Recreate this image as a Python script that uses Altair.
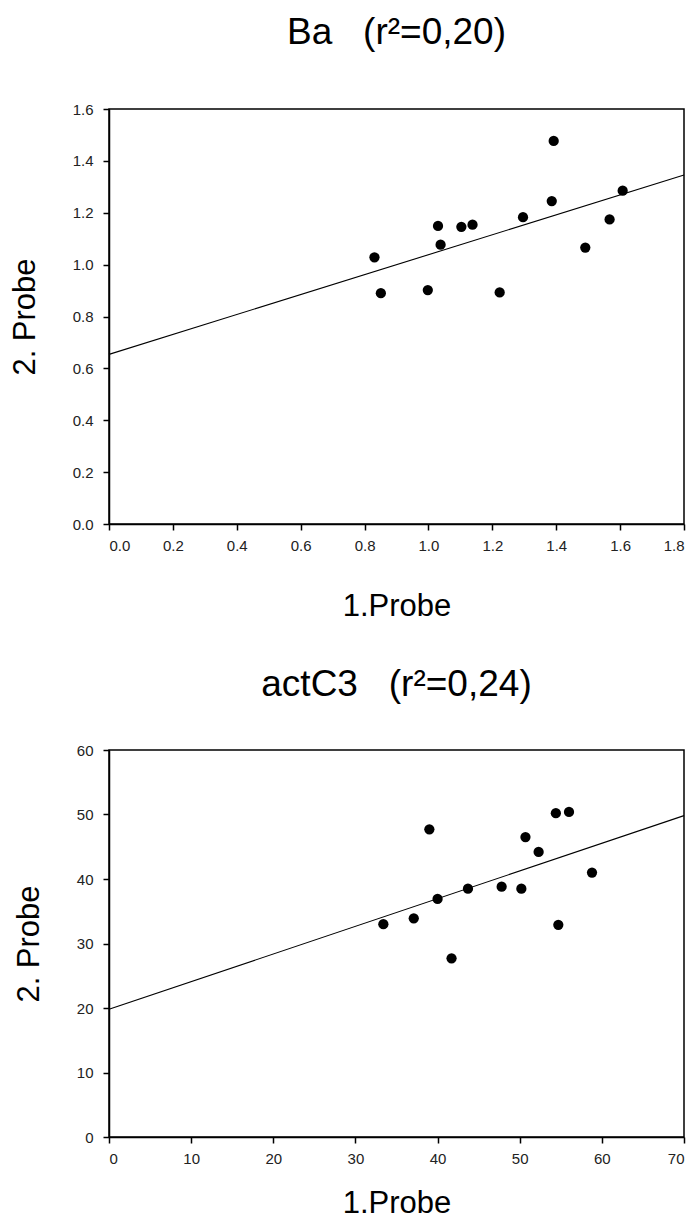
import altair as alt
import pandas as pd

# ---- data ----
ba_x = [0.831, 0.851, 0.998, 1.030, 1.038, 1.103, 1.138, 1.223, 1.296, 1.386, 1.392, 1.491, 1.567, 1.608]
ba_y = [1.028, 0.890, 0.902, 1.149, 1.077, 1.146, 1.154, 0.893, 1.183, 1.245, 1.477, 1.066, 1.174, 1.285]

act_x = [33.4, 37.1, 39.0, 40.0, 41.7, 43.7, 47.8, 50.2, 50.7, 52.3, 54.4, 56.0, 54.7, 58.8]
act_y = [33.0, 33.9, 47.7, 36.9, 27.7, 38.5, 38.8, 38.5, 46.5, 44.2, 50.2, 50.4, 32.9, 41.0]

ba_xticks = [0.0, 0.2, 0.4, 0.6, 0.8, 1.0, 1.2, 1.4, 1.6, 1.8]
ba_yticks = [0.0, 0.2, 0.4, 0.6, 0.8, 1.0, 1.2, 1.4, 1.6]
act_xticks = [0, 10, 20, 30, 40, 50, 60, 70]
act_yticks = [0, 10, 20, 30, 40, 50, 60]

titles = ["Ba\u00a0\u00a0\u00a0(r\u00b2=0,20)", "actC3\u00a0\u00a0\u00a0(r\u00b2=0,24)"]
x_title = "1.Probe"
y_title = "2. Probe"

FONT = "Liberation Sans"


def panel(xs, ys, xticks, yticks, fmt, title, w, h, title_offset, xtitle_pad):
    df = pd.DataFrame({"x": xs, "y": ys})
    xscale = alt.Scale(domain=[xticks[0], xticks[-1]], nice=False)
    yscale = alt.Scale(domain=[yticks[0], yticks[-1]], nice=False)
    xaxis = alt.Axis(values=xticks, format=fmt, title=x_title, titlePadding=xtitle_pad)
    yaxis = alt.Axis(values=yticks, format=fmt, title=y_title)
    base = alt.Chart(df)
    line = base.transform_regression(
        "x", "y", extent=[xticks[0], xticks[-1]]
    ).mark_line(color="black", strokeWidth=1.1).encode(
        x=alt.X("x:Q", scale=xscale, axis=xaxis),
        y=alt.Y("y:Q", scale=yscale, axis=yaxis),
    )
    pts = base.mark_circle(size=105, color="black", opacity=1).encode(
        x=alt.X("x:Q", scale=xscale, axis=xaxis),
        y=alt.Y("y:Q", scale=yscale, axis=yaxis),
    )
    return alt.layer(line, pts).properties(
        width=w,
        height=h,
        title=alt.TitleParams(
            title, fontSize=37, font=FONT, fontWeight="normal",
            color="black", anchor="middle", offset=title_offset,
        ),
    )


top = panel(ba_x, ba_y, ba_xticks, ba_yticks, ".1f", titles[0], 575, 415, 50, 38)
bottom = panel(act_x, act_y, act_xticks, act_yticks, "d", titles[1], 575, 387, 39, 22)

chart = alt.vconcat(top, bottom, spacing=43).properties(
    padding={"left": 0, "top": 5, "right": 0, "bottom": 0}
).configure_view(
    stroke="black", strokeWidth=1.5
).configure_axis(
    grid=False,
    domainColor="black",
    domainWidth=1.5,
    tickColor="black",
    tickWidth=1.5,
    tickSize=6,
    labelFont=FONT,
    labelFontSize=15,
    labelColor="#222",
    titleFont=FONT,
    titleFontSize=31,
    titleFontWeight="normal",
    titleColor="black",
).configure_axisX(
    labelPadding=8,
).configure_axisY(
    labelPadding=10,
    titlePadding=31,
)

chart.save("out.html", embed_options={"renderer": "svg", "actions": False})
